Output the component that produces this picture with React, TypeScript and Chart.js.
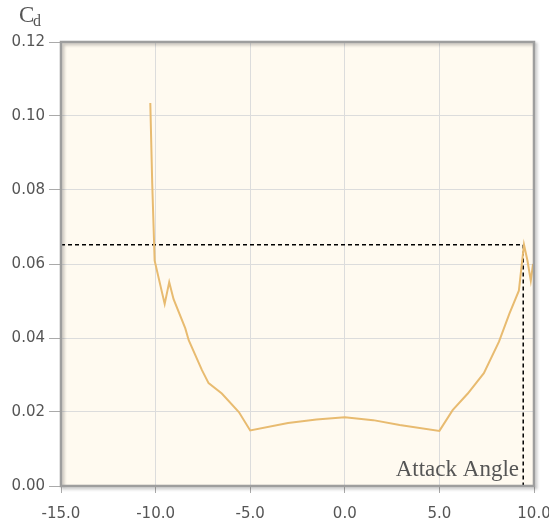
import React, { useEffect, useRef } from "react";
import { Chart, registerables } from "chart.js";

Chart.register(...registerables);

// Drag coefficient curve (attack angle in degrees, Cd)
const attackAngles = [
  -10.28, -10.18, -10.05, -9.52, -9.28, -9.05, -8.43, -8.25, -7.55, -7.2, -6.5,
  -5.6, -5.0, -3.0, -1.5, 0.0, 1.5, 2.9, 5.0, 5.7, 6.5, 7.35, 8.15, 8.7, 9.2,
  9.47, 9.65, 9.83, 9.95,
];
const cdValues = [
  0.1035, 0.082, 0.0609, 0.0492, 0.0551, 0.0505, 0.0426, 0.0394, 0.0313, 0.0278,
  0.025, 0.02, 0.015, 0.017, 0.018, 0.0186, 0.0178, 0.0165, 0.0149, 0.0205,
  0.025, 0.0305, 0.039, 0.0466, 0.0528, 0.0652, 0.061, 0.0555, 0.06,
];

// Dashed reference lines
const refAngles = [-15, 9.43, 9.43];
const refCd = [0.0652, 0.0652, 0];

// Axis ticks
const xTicks = [-15, -10, -5, 0, 5, 10];
const yTicks = [0, 0.02, 0.04, 0.06, 0.08, 0.1, 0.12];

const frameBackground = {
  id: "frameBackground",
  beforeDraw(chart: any) {
    const { ctx, chartArea: a } = chart;
    ctx.save();
    ctx.fillStyle = "#fffaf0";
    ctx.fillRect(a.left, a.top, a.right - a.left, a.bottom - a.top);
    ctx.restore();
  },
  afterDraw(chart: any) {
    const { ctx, chartArea: a } = chart;
    ctx.save();
    ctx.shadowColor = "rgba(0,0,0,0.25)";
    ctx.shadowBlur = 3;
    ctx.shadowOffsetX = 2;
    ctx.shadowOffsetY = 2;
    ctx.strokeStyle = "#9e9e9e";
    ctx.lineWidth = 2.5;
    ctx.strokeRect(a.left, a.top, a.right - a.left, a.bottom - a.top);
    ctx.restore();

    ctx.save();
    ctx.fillStyle = "#555";
    ctx.textBaseline = "alphabetic";
    ctx.textAlign = "left";
    ctx.font = "23px 'Liberation Serif'";
    ctx.fillText("C", 19, 22);
    ctx.font = "16px 'Liberation Serif'";
    ctx.fillText("d", 33, 26);
    ctx.font = "23px 'Liberation Serif'";
    ctx.textAlign = "right";
    ctx.fillText("Attack Angle", 519, 476);
    ctx.restore();
  },
};

export default function App() {
  const ref = useRef<HTMLCanvasElement | null>(null);
  useEffect(() => {
    if (!ref.current) return;
    const chart = new Chart(ref.current, {
      type: "line",
      data: {
        datasets: [
          {
            data: attackAngles.map((x, i) => ({ x, y: cdValues[i] })),
            borderColor: "#e8bb70",
            borderWidth: 2,
            pointRadius: 0,
            tension: 0,
          },
          {
            data: refAngles.map((x, i) => ({ x, y: refCd[i] })),
            borderColor: "#000",
            borderWidth: 1.5,
            borderDash: [4, 3],
            pointRadius: 0,
            tension: 0,
          },
        ],
      },
      options: {
        responsive: false,
        animation: false,
        layout: { padding: { top: 42, right: 15, left: 0, bottom: 0 } },
        plugins: { legend: { display: false }, tooltip: { enabled: false } },
        scales: {
          x: {
            type: "linear",
            min: xTicks[0],
            max: xTicks[xTicks.length - 1],
            afterBuildTicks: (s: any) => {
              s.ticks = xTicks.map((v) => ({ value: v }));
            },
            ticks: {
              callback: (v: any) => Number(v).toFixed(1),
              font: { family: "'DejaVu Sans'", size: 15 },
              color: "#555",
              padding: 12,
              maxRotation: 0,
            },
            grid: { color: "#dcdcdc", tickColor: "#aaa", tickLength: 7, lineWidth: 1 },
            border: { display: false },
            afterFit: (s: any) => {
              s.height = 38;
              s.paddingLeft = 0;
              s.paddingRight = 0;
            },
          },
          y: {
            type: "linear",
            min: yTicks[0],
            max: yTicks[yTicks.length - 1],
            afterBuildTicks: (s: any) => {
              s.ticks = yTicks.map((v) => ({ value: v }));
            },
            ticks: {
              callback: (v: any) => Number(v).toFixed(2),
              font: { family: "'DejaVu Sans'", size: 15 },
              color: "#555",
              padding: 4,
            },
            grid: { color: "#dcdcdc", tickColor: "#aaa", tickLength: 12, lineWidth: 1 },
            border: { display: false },
            afterFit: (s: any) => {
              s.width = 61;
              s.paddingTop = 0;
              s.paddingBottom = 0;
            },
          },
        },
      },
      plugins: [frameBackground],
    });
    return () => chart.destroy();
  }, []);
  return (
    <div style={{ position: "fixed", left: 0, top: 0 }}>
      <canvas ref={ref} width={549} height={524} style={{ width: 549, height: 524 }} />
    </div>
  );
}
